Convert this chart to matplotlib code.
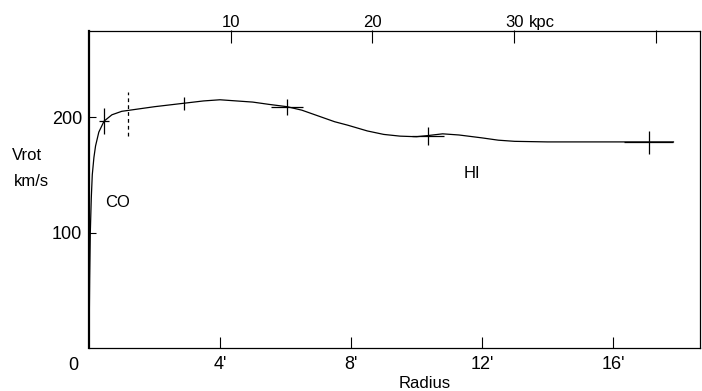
import matplotlib
matplotlib.use("Agg")
import matplotlib.pyplot as plt
from matplotlib.transforms import offset_copy

plt.rcParams['font.family'] = ['Liberation Sans', 'DejaVu Sans']

# Rotation curve (radius in arcmin, velocity in km/s)
curve_r = [0.0, 0.02, 0.04, 0.07, 0.1, 0.15, 0.2, 0.3, 0.46, 0.7, 1.0, 1.5, 2.0,
           2.9, 3.5, 4.0, 4.5, 5.0, 5.5, 6.05, 6.5, 7.0, 7.5, 7.9, 8.5, 9.0,
           9.5, 10.0, 10.35, 10.8, 11.3, 12.0, 12.5, 13.0, 14.0, 16.0, 17.85]
curve_v = [0, 60, 100, 130, 150, 165, 175, 187, 196.5, 202, 205, 207, 209,
           212, 214, 215, 214, 213, 211, 209, 206, 201, 196, 193, 188, 185,
           183.5, 183, 184, 185.5, 184.5, 182, 180, 179, 178.5, 178.5, 178.5]

# Measured points with their uncertainties
pt_r = [0.46, 2.9, 6.05, 10.35, 17.1]
pt_v = [196.5, 212, 209, 183.5, 178]
pt_rerr = [0.15, 0.0, 0.5, 0.5, 0.75]
pt_verr = [11, 5.5, 7, 8, 10]

# Boundary between CO and HI data
co_hi_r = 1.19
co_hi_v = [184, 222]

bottom_ticks = [4, 8, 12, 16]
bottom_labels = ["4'", "8'", "12'", "16'"]
left_ticks = [100, 200]
left_labels = ["100", "200"]
kpc_ticks = [10, 20, 30, 40]
kpc_labels = ["10", "20", "30", ""]
kpc_per_arcmin = 2.31

TICK_FS = 13
TEXT_FS = 12

fig = plt.figure(figsize=(7.02, 3.91), dpi=100)
ax = fig.add_axes([89 / 702, 1 - 348 / 391, (700 - 89) / 702, (348 - 30.5) / 391])

ax.plot(curve_r, curve_v, color='black', lw=0.9)
ax.errorbar(pt_r, pt_v, xerr=pt_rerr, yerr=pt_verr, fmt='none',
            ecolor='black', elinewidth=0.9, capsize=0)
ax.plot([co_hi_r, co_hi_r], co_hi_v, color='black', lw=0.9, ls=(0, (3, 2.5)))

ax.set_xlim(0, 18.66)
ax.set_ylim(0, 275)

ax.set_xticks(bottom_ticks)
ax.set_xticklabels(bottom_labels)
ax.set_yticks(left_ticks)
ax.set_yticklabels(left_labels)
ax.tick_params(axis='x', direction='in', length=8, width=0.8, pad=6, labelsize=TICK_FS)
ax.tick_params(axis='y', direction='in', length=5, width=0.8, pad=5, labelsize=TICK_FS)

for side in ['top', 'right', 'bottom']:
    ax.spines[side].set_linewidth(0.9)
ax.spines['left'].set_linewidth(1.6)

# Linear scale in kpc along the top
sec = ax.secondary_xaxis('top', functions=(lambda r: r * kpc_per_arcmin,
                                           lambda k: k / kpc_per_arcmin))
sec.set_xticks(kpc_ticks)
sec.set_xticklabels([''] * len(kpc_ticks))
sec.tick_params(direction='in', length=9, width=0.8)
sec.spines['top'].set_visible(False)

top_tr = offset_copy(ax.get_xaxis_transform(), fig=fig, x=0, y=3.5, units='dots')
for k, lab in zip(kpc_ticks, kpc_labels):
    if lab:
        ax.text(k / kpc_per_arcmin, 1.0, lab, transform=top_tr,
                ha='center', va='baseline', fontsize=TEXT_FS)
ax.text(30 / kpc_per_arcmin + 0.45, 1.0, 'kpc', transform=top_tr,
        ha='left', va='baseline', fontsize=TEXT_FS)

ax.text(-16 / 32.75, -0.027, '0', transform=ax.get_xaxis_transform(),
        ha='center', va='top', fontsize=TICK_FS)

fig.text(12 / 702, 1 - 155 / 391, 'Vrot', ha='left', va='center', fontsize=TEXT_FS)
fig.text(14 / 702, 1 - 181 / 391, 'km/s', ha='left', va='center', fontsize=TEXT_FS)
ax.text(0.5, 126, 'CO', ha='left', va='center', fontsize=TEXT_FS)
ax.text(11.45, 151, 'HI', ha='left', va='center', fontsize=TEXT_FS)
fig.text(425 / 702, 1 - 383 / 391, 'Radius', ha='center', va='center', fontsize=TEXT_FS)

fig.savefig('out.png', dpi=100)
